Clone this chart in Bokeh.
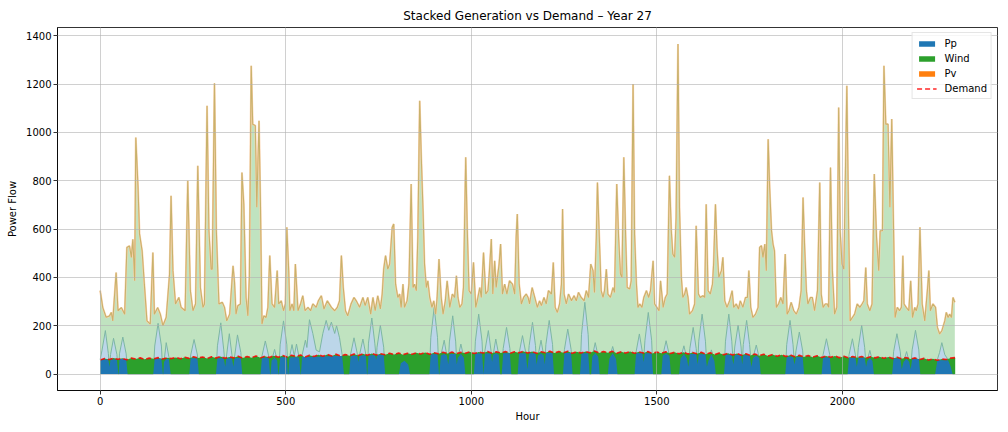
import numpy as np
from bokeh.plotting import figure
from bokeh.models import Range1d, FixedTicker, Legend, LegendItem
from bokeh.embed import file_html
from bokeh.resources import INLINE

# ---------------- data ----------------
# total stacked generation (Pp + Wind + Pv), top edge of the stack
top_hours = [
    0, 7, 16, 25, 30, 34, 43, 48, 57, 66,
    72, 79, 84, 88, 93, 96, 102, 106, 113, 119,
    126, 135, 142, 146, 155, 162, 169, 178, 187, 191,
    196, 203, 212, 218, 229, 236, 243, 250, 257, 263,
    270, 277, 281, 288, 293, 299, 302, 308, 313, 320,
    329, 335, 341, 349, 358, 362, 366, 371, 378, 382,
    387, 393, 398, 402, 407, 411, 418, 422, 428, 432,
    436, 441, 447, 452, 457, 463, 470, 477, 481, 488,
    494, 499, 503, 508, 511, 517, 522, 526, 533, 540,
    546, 552, 560, 567, 573, 582, 588, 596, 603, 612,
    623, 632, 639, 645, 650, 655, 661, 667, 676, 684,
    690, 699, 708, 714, 721, 729, 735, 741, 748, 755,
    760, 764, 769, 775, 780, 787, 791, 796, 802, 807,
    811, 816, 820, 827, 832, 838, 843, 847, 852, 856,
    861, 865, 870, 874, 879, 883, 888, 894, 899, 904,
    908, 913, 919, 924, 930, 935, 942, 949, 955, 960,
    964, 969, 975, 979, 985, 989, 994, 1000, 1006, 1012,
    1016, 1023, 1027, 1033, 1039, 1045, 1049, 1054, 1058, 1063,
    1067, 1075, 1079, 1084, 1090, 1096, 1103, 1111, 1117, 1121,
    1124, 1129, 1135, 1141, 1148, 1153, 1157, 1164, 1171, 1178,
    1184, 1189, 1196, 1202, 1208, 1216, 1221, 1226, 1232, 1238,
    1243, 1246, 1250, 1256, 1262, 1270, 1277, 1283, 1289, 1296,
    1304, 1310, 1316, 1322, 1328, 1332, 1337, 1340, 1345, 1350,
    1355, 1359, 1364, 1368, 1375, 1382, 1386, 1392, 1397, 1402,
    1406, 1411, 1416, 1420, 1427, 1431, 1436, 1440, 1445, 1449,
    1454, 1460, 1465, 1472, 1478, 1483, 1490, 1494, 1500, 1506,
    1510, 1517, 1523, 1528, 1534, 1539, 1543, 1548, 1552, 1557,
    1561, 1566, 1570, 1575, 1579, 1584, 1588, 1596, 1602, 1606,
    1612, 1617, 1624, 1629, 1633, 1638, 1644, 1650, 1653, 1658,
    1662, 1667, 1674, 1678, 1683, 1689, 1696, 1703, 1707, 1714,
    1720, 1725, 1732, 1739, 1744, 1748, 1753, 1759, 1766, 1773,
    1777, 1782, 1786, 1791, 1795, 1800, 1804, 1809, 1813, 1817,
    1822, 1828, 1834, 1840, 1846, 1851, 1856, 1862, 1869, 1876,
    1883, 1889, 1894, 1898, 1903, 1907, 1914, 1919, 1925, 1933,
    1939, 1943, 1948, 1954, 1959, 1963, 1968, 1973, 1979, 1985,
    1990, 1994, 1999, 2004, 2012, 2017, 2021, 2027, 2033, 2040,
    2047, 2053, 2058, 2063, 2067, 2074, 2080, 2086, 2092, 2098,
    2102, 2108, 2112, 2117, 2123, 2128, 2133, 2137, 2142, 2148,
    2154, 2159, 2163, 2166, 2172, 2179, 2184, 2189, 2195, 2199,
    2204, 2209, 2215, 2222, 2229, 2233, 2237, 2244, 2251, 2256,
    2262, 2268, 2276, 2280, 2285, 2289, 2294, 2298, 2303,
]
total_gen = [
    345, 275, 235, 240, 255, 220, 420, 262, 275, 248,
    524, 530, 483, 558, 386, 979, 772, 580, 510, 372,
    220, 207, 503, 248, 275, 248, 200, 235, 414, 738,
    428, 290, 317, 276, 262, 800, 345, 262, 290, 862,
    358, 276, 290, 1110, 593, 434, 434, 1203, 593, 290,
    297, 276, 220, 248, 448, 380, 248, 283, 290, 834,
    703, 317, 241, 400, 1276, 1034, 1028, 690, 1048, 690,
    207, 241, 234, 276, 490, 290, 276, 428, 290, 303,
    262, 290, 607, 428, 262, 290, 262, 455, 262, 290,
    324, 262, 276, 262, 290, 276, 303, 324, 269, 303,
    276, 262, 276, 303, 490, 358, 262, 241, 290, 317,
    303, 276, 317, 283, 317, 248, 317, 262, 324, 270,
    331, 434, 490, 434, 455, 607, 621, 372, 317, 331,
    276, 372, 276, 303, 372, 786, 358, 372, 345, 566,
    1131, 910, 676, 455, 358, 386, 317, 276, 303, 248,
    317, 476, 317, 248, 303, 386, 276, 331, 317, 407,
    317, 276, 290, 358, 897, 607, 345, 331, 462, 276,
    303, 358, 317, 503, 331, 345, 428, 559, 331, 469,
    358, 455, 538, 331, 372, 331, 386, 372, 331, 566,
    662, 372, 290, 317, 331, 317, 290, 358, 317, 276,
    303, 283, 317, 290, 345, 331, 462, 276, 255, 290,
    372, 683, 331, 290, 331, 303, 324, 303, 338, 317,
    303, 345, 317, 455, 428, 338, 566, 793, 566, 345,
    317, 345, 434, 331, 317, 358, 338, 786, 566, 414,
    400, 897, 566, 358, 352, 386, 1200, 579, 372, 276,
    290, 276, 317, 345, 317, 345, 469, 290, 276, 262,
    386, 276, 317, 331, 821, 593, 497, 483, 648, 1366,
    690, 400, 317, 331, 358, 317, 248, 262, 290, 614,
    331, 317, 324, 317, 703, 345, 331, 372, 455, 703,
    524, 400, 428, 483, 303, 276, 303, 345, 276, 290,
    269, 303, 276, 317, 317, 428, 276, 234, 248, 276,
    524, 531, 483, 538, 428, 972, 772, 593, 538, 510,
    276, 290, 317, 290, 497, 248, 262, 297, 262, 248,
    276, 345, 731, 538, 345, 290, 317, 317, 262, 345,
    793, 331, 276, 290, 290, 276, 855, 428, 248, 276,
    1103, 593, 455, 434, 1193, 593, 220, 234, 248, 290,
    276, 290, 303, 441, 290, 262, 290, 828, 566, 428,
    593, 593, 1276, 1034, 1034, 690, 1055, 676, 234, 276,
    262, 276, 490, 290, 276, 262, 386, 234, 276, 262,
    290, 607, 290, 220, 345, 428, 262, 290, 276, 193,
    166, 179, 220, 255, 234, 248, 234, 317, 297,
]

# Pp: available output (light layer) and the part used to meet demand (solid layer)
pp_hours = [
    0, 5, 14, 22, 25, 28, 36, 45, 49,
    50, 52, 61, 70, 74,
    143, 147, 156, 165, 169,
    170, 172, 178, 185, 190,
    240, 244, 253, 262, 266,
    312, 316, 325, 333, 337, 340, 348, 355, 359, 362, 370, 379, 383,
    432, 436, 445, 454, 458,
    459, 462, 470, 477, 480,
    481, 485, 494, 503, 506,
    507, 510, 517, 523, 529, 536, 540,
    541, 544, 553, 557, 564, 573, 582, 591, 600, 609, 616, 623, 632, 637, 645, 652, 657,
    671, 675, 684, 693, 696, 699, 708, 716, 719,
    720, 723, 732, 740, 744, 746, 755, 764, 768,
    805, 810, 820, 830, 835,
    887, 891, 900, 909, 913,
    914, 918, 927, 934, 938, 941, 950, 958, 961, 964, 972, 980, 984,
    1007, 1011, 1020, 1029, 1033, 1037, 1046, 1053, 1056, 1059, 1066, 1074, 1078,
    1082, 1086, 1095, 1104, 1108,
    1125, 1129, 1138, 1147, 1151, 1156, 1165, 1173, 1176, 1180, 1188, 1195, 1198, 1201, 1210, 1219, 1223,
    1247, 1251, 1260, 1269, 1273,
    1293, 1297, 1306, 1315, 1319, 1323, 1326, 1334, 1342, 1346,
    1368, 1372, 1381, 1390, 1394,
    1440, 1444, 1453, 1461, 1464, 1468, 1477, 1486, 1490,
    1512, 1516, 1525, 1534, 1538,
    1560, 1564, 1573, 1581, 1585, 1589, 1598, 1606, 1610, 1613, 1622, 1631, 1635, 1639, 1647, 1655, 1659,
    1681, 1685, 1694, 1702, 1706, 1710, 1719, 1727, 1730, 1733, 1742, 1750, 1755, 1759, 1768, 1776, 1780,
    1846, 1850, 1859, 1867, 1871, 1875, 1884, 1893, 1897,
    1944, 1948, 1957, 1966, 1970,
    2014, 2018, 2027, 2035, 2039, 2043, 2052, 2060, 2064, 2067, 2074, 2081, 2085,
    2134, 2138, 2147, 2156, 2160, 2165, 2173, 2180, 2184, 2188, 2197, 2206, 2210,
    2250, 2256, 2262, 2268, 2276, 2285, 2292, 2297, 2303,
]
pp_avail = [
    60, 99, 180, 85, 30, 81, 148, 81, 0,
    0, 84, 153, 84, 0,
    0, 116, 210, 116, 0,
    0, 50, 130, 72, 0,
    0, 79, 143, 79, 0,
    0, 117, 212, 100, 30, 70, 167, 80, 30, 70, 162, 89, 0,
    0, 75, 137, 75, 0,
    0, 56, 102, 56, 0,
    0, 121, 220, 121, 0,
    0, 67, 122, 75, 124, 68, 0,
    0, 77, 140, 110, 225, 168, 99, 92, 168, 222, 181, 215, 168, 200, 150, 80, 0,
    0, 83, 150, 83, 50, 80, 145, 80, 0,
    0, 128, 232, 128, 60, 111, 202, 111, 0,
    0, 45, 55, 40, 0,
    0, 152, 276, 152, 0,
    0, 77, 140, 77, 40, 133, 241, 133, 40, 68, 124, 68, 0,
    0, 136, 248, 136, 0, 99, 180, 99, 50, 80, 145, 80, 0,
    0, 106, 193, 106, 0,
    0, 87, 159, 87, 20, 118, 214, 118, 40, 77, 140, 77, 40, 122, 222, 122, 0,
    0, 102, 186, 102, 0,
    0, 163, 297, 163, 0, 0, 72, 130, 72, 0,
    0, 63, 114, 63, 0,
    0, 91, 166, 91, 50, 140, 255, 140, 0,
    0, 76, 138, 76, 0,
    0, 64, 117, 64, 30, 106, 193, 106, 40, 136, 248, 136, 30, 55, 100, 55, 0,
    0, 136, 248, 136, 40, 112, 203, 112, 40, 122, 222, 122, 30, 66, 120, 66, 0,
    0, 122, 222, 122, 40, 96, 174, 96, 0,
    0, 80, 146, 80, 0,
    0, 80, 146, 80, 30, 111, 202, 111, 30, 54, 98, 54, 0,
    0, 92, 167, 92, 20, 51, 93, 51, 20, 100, 181, 100, 0,
    0, 60, 90, 130, 80, 60, 30, 0, 0,
]
pp_used = [
    58, 60, 60, 60, 30, 60, 60, 60, 0,
    0, 62, 62, 62, 0,
    0, 63, 63, 63, 0,
    0, 50, 62, 62, 0,
    0, 65, 65, 65, 0,
    0, 65, 65, 65, 30, 65, 65, 65, 30, 66, 66, 66, 0,
    0, 67, 67, 67, 0,
    0, 56, 68, 56, 0,
    0, 70, 70, 70, 0,
    0, 67, 70, 70, 71, 68, 0,
    0, 71, 71, 71, 71, 72, 72, 72, 74, 74, 74, 74, 75, 75, 75, 75, 0,
    0, 76, 76, 76, 50, 77, 77, 77, 0,
    0, 78, 78, 78, 60, 79, 79, 79, 0,
    0, 45, 55, 40, 0,
    0, 82, 82, 82, 0,
    0, 77, 83, 77, 40, 83, 83, 83, 40, 68, 84, 68, 0,
    0, 85, 85, 85, 0, 85, 85, 85, 50, 80, 86, 80, 0,
    0, 86, 86, 86, 0,
    0, 86, 86, 86, 20, 86, 86, 86, 40, 77, 86, 77, 40, 87, 87, 87, 0,
    0, 87, 87, 87, 0,
    0, 86, 86, 86, 0, 0, 72, 87, 72, 0,
    0, 63, 87, 63, 0,
    0, 86, 86, 86, 50, 86, 86, 86, 0,
    0, 76, 85, 76, 0,
    0, 64, 83, 64, 30, 83, 83, 83, 40, 82, 82, 82, 30, 55, 82, 55, 0,
    0, 80, 80, 80, 40, 79, 79, 79, 40, 78, 78, 78, 30, 66, 77, 66, 0,
    0, 72, 72, 72, 40, 71, 71, 71, 0,
    0, 69, 69, 69, 0,
    0, 68, 68, 68, 30, 67, 67, 67, 30, 54, 66, 54, 0,
    0, 64, 64, 64, 20, 51, 63, 51, 20, 62, 62, 62, 0,
    0, 57, 57, 57, 57, 57, 30, 0, 0,
]

# Demand, every 12 hours from hour 0
demand = [
    58, 64, 60, 66, 61, 65, 59, 66, 62, 67,
    61, 66, 63, 68, 62, 67, 64, 69, 63, 70,
    65, 72, 66, 71, 64, 72, 66, 73, 65, 71,
    67, 74, 66, 73, 68, 75, 67, 74, 69, 76,
    70, 77, 71, 78, 72, 79, 70, 78, 73, 80,
    74, 81, 75, 82, 74, 81, 76, 83, 77, 84,
    78, 85, 79, 84, 80, 86, 81, 87, 80, 86,
    82, 88, 83, 89, 82, 88, 84, 90, 85, 91,
    84, 90, 86, 92, 85, 91, 87, 93, 86, 92,
    87, 93, 86, 92, 88, 94, 87, 93, 86, 92,
    88, 94, 87, 93, 88, 94, 86, 92, 87, 93,
    88, 95, 87, 93, 88, 94, 86, 92, 87, 93,
    86, 92, 87, 93, 85, 91, 86, 92, 85, 90,
    84, 90, 83, 89, 84, 90, 82, 88, 81, 87,
    80, 86, 79, 85, 78, 84, 77, 83, 76, 82,
    75, 81, 74, 80, 73, 79, 72, 78, 71, 77,
    70, 76, 69, 75, 70, 75, 68, 74, 67, 73,
    68, 73, 66, 72, 67, 72, 65, 71, 64, 70,
    63, 69, 62, 67, 60, 65, 58, 63, 57, 62,
    60, 66, 68,
]
demand_hours = list(range(0, 12 * len(demand), 12))

x_ticks = [0, 500, 1000, 1500, 2000]
y_ticks = [0, 200, 400, 600, 800, 1000, 1200, 1400]

# ---------------- colours ----------------
BLUE = "#1f77b4"
GREEN = "#2ca02c"
ORANGE = "#ff7f0e"
LIGHT_GREEN = "#c0e3c0"
LIGHT_BLUE = "#bcd6e9"

FONT = "DejaVu Sans"

p = figure(
    frame_width=940, frame_height=363,
    x_range=Range1d(-115, 2418), y_range=Range1d(-68, 1434),
    output_backend="svg", toolbar_location=None,
    title="Stacked Generation vs Demand \u2013 Year 27",
    min_border_left=57, min_border_right=3, min_border_top=27, min_border_bottom=34,
)
p.background_fill_color = "white"
p.border_fill_color = "white"
p.outline_line_color = "black"
p.outline_line_width = 0.8

p.title.align = "center"
p.title.text_font = FONT
p.title.text_font_size = "12px"
p.title.text_font_style = "normal"
p.title.text_color = "black"

# light (available) layers
p.varea(x=top_hours, y1=0, y2=total_gen, fill_color=LIGHT_GREEN)
p.varea(x=pp_hours, y1=0, y2=pp_avail, fill_color=LIGHT_BLUE)
p.line(pp_hours, pp_avail, line_color="#7db6a3", line_width=1.0)
p.line(top_hours, total_gen, line_color="#fdd3ae", line_width=2.0)
p.line(top_hours, total_gen, line_color="#c8b26c", line_width=1.1)

# solid (dispatched) layers
r_wind = p.varea(x=demand_hours, y1=0, y2=demand, fill_color=GREEN)
r_pp = p.varea(x=pp_hours, y1=0, y2=pp_used, fill_color=BLUE)
r_pv = p.varea(x=top_hours, y1=total_gen, y2=total_gen, fill_color=ORANGE)
r_dem = p.line(demand_hours, demand, line_color="#ff0000", line_width=1.6,
               line_dash="5 3", line_alpha=0.85)

# axes
for ax in (p.xaxis[0], p.yaxis[0]):
    ax.major_label_text_font = FONT
    ax.major_label_text_font_size = "10px"
    ax.major_label_text_color = "black"
    ax.axis_label_text_font = FONT
    ax.axis_label_text_font_size = "10px"
    ax.axis_label_text_font_style = "normal"
    ax.axis_label_text_color = "black"
    ax.axis_line_color = "black"
    ax.axis_line_width = 0.8
    ax.major_tick_line_color = "black"
    ax.major_tick_line_width = 0.8
    ax.major_tick_in = 0
    ax.major_tick_out = 4
    ax.minor_tick_line_color = None
    ax.major_label_standoff = 2

p.xaxis[0].axis_label_standoff = 3
p.yaxis[0].axis_label_standoff = 5

p.xaxis[0].ticker = FixedTicker(ticks=x_ticks)
p.yaxis[0].ticker = FixedTicker(ticks=y_ticks)
p.xaxis[0].axis_label = "Hour"
p.yaxis[0].axis_label = "Power Flow"

for g in (p.xgrid[0], p.ygrid[0]):
    g.grid_line_color = "#b0b0b0"
    g.grid_line_width = 0.8
    g.grid_line_alpha = 0.75
    g.level = "overlay"
p.xgrid[0].ticker = FixedTicker(ticks=x_ticks)
p.ygrid[0].ticker = FixedTicker(ticks=y_ticks)

legend = Legend(items=[
    LegendItem(label="Pp", renderers=[r_pp]),
    LegendItem(label="Wind", renderers=[r_wind]),
    LegendItem(label="Pv", renderers=[r_pv]),
    LegendItem(label="Demand", renderers=[r_dem]),
], location="top_right")
legend.label_text_font = FONT
legend.label_text_font_size = "10px"
legend.label_text_color = "black"
legend.glyph_width = 20
legend.glyph_height = 7
legend.label_height = 12
legend.spacing = 3
legend.padding = 4
legend.margin = 5
legend.label_standoff = 8
legend.border_line_color = "#cccccc"
legend.border_line_width = 1
legend.background_fill_alpha = 0.8
p.add_layout(legend)

open("out.html", "w").write(file_html(p, INLINE))
